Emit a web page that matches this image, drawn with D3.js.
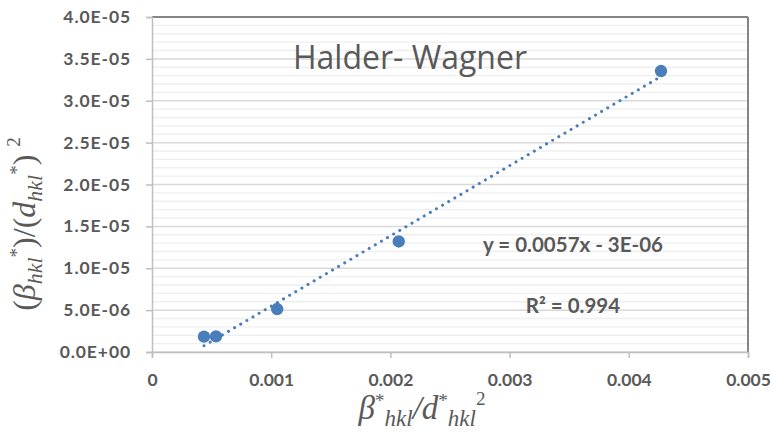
<!DOCTYPE html>
<html>
<head>
<meta charset="utf-8">
<script src="https://cdn.jsdelivr.net/npm/d3@7"></script>
<style>
  html, body { margin: 0; padding: 0; background: #fff; }
  svg { display: block; }
</style>
</head>
<body>
<svg id="chart" width="773" height="432"></svg>
<script>
// ---- data ----
const xValues = [0.000436, 0.000537, 0.00105, 0.00207, 0.00427];
const yValues = [1.83e-6, 1.87e-6, 5.13e-6, 13.2e-6, 33.55e-6];
const xTicks = [0, 0.001, 0.002, 0.003, 0.004, 0.005];
const xTickLabels = ["0", "0.001", "0.002", "0.003", "0.004", "0.005"];
const yTicks = [0, 5e-6, 1e-5, 1.5e-5, 2e-5, 2.5e-5, 3e-5, 3.5e-5, 4e-5];
const yTickLabels = ["0.0E+00", "5.0E-06", "1.0E-05", "1.5E-05", "2.0E-05", "2.5E-05", "3.0E-05", "3.5E-05", "4.0E-05"];
const yMinorTicks = d3.range(0, 41).map(i => i * 1e-6);
const titleText = "Halder- Wagner";
const equationText = "y = 0.0057x - 3E-06";
const r2Text = "R² = 0.994";

(function () {
// ---- layout ----
const svg = d3.select("#chart");
const pL = 152, pR = 748, pT = 17, pB = 352;
const x = d3.scaleLinear().domain([0, 0.005]).range([pL, pR]);
const y = d3.scaleLinear().domain([0, 4e-5]).range([pB, pT]);
const grey = "#595959";
const blue = "#4a7ebb";
const tickFont = "Lato, 'Open Sans', sans-serif";

// minor gridlines
svg.append("g").selectAll("line").data(yMinorTicks.filter((d, i) => i % 5 !== 0))
  .join("line")
  .attr("x1", pL).attr("x2", pR)
  .attr("y1", d => y(d)).attr("y2", d => y(d))
  .attr("stroke", "#efefef").attr("stroke-width", 1.3);

// major gridlines
svg.append("g").selectAll("line").data(yTicks)
  .join("line")
  .attr("x1", pL).attr("x2", pR)
  .attr("y1", d => y(d)).attr("y2", d => y(d))
  .attr("stroke", "#d9d9d9").attr("stroke-width", 1.5);

// plot border (top/right darker)
svg.append("line").attr("x1", pL).attr("x2", pR).attr("y1", pT).attr("y2", pT)
  .attr("stroke", "#858585").attr("stroke-width", 2);
svg.append("line").attr("x1", pR).attr("x2", pR).attr("y1", pT).attr("y2", pB)
  .attr("stroke", "#858585").attr("stroke-width", 2);

// x axis
const xAxis = d3.axisBottom(x).tickValues(xTicks).tickSize(6).tickFormat((d, i) => xTickLabels[i]);
const gx = svg.append("g").attr("transform", `translate(0,${pB})`).call(xAxis);
gx.select(".domain").attr("stroke", "#bfbfbf").attr("stroke-width", 1.5);
gx.selectAll(".tick line").attr("stroke", "#bfbfbf").attr("stroke-width", 1.5);
gx.selectAll(".tick text").attr("font-family", tickFont).attr("font-weight", "bold")
  .attr("font-size", 17.5).attr("fill", grey).attr("dy", "1.42em");

// y axis
const yAxis = d3.axisLeft(y).tickValues(yTicks).tickSize(6).tickFormat((d, i) => yTickLabels[i]);
const gy = svg.append("g").attr("transform", `translate(${pL},0)`).call(yAxis);
gy.select(".domain").attr("stroke", "#bfbfbf").attr("stroke-width", 1.5);
gy.selectAll(".tick line").attr("stroke", "#bfbfbf").attr("stroke-width", 1.5);
gy.selectAll(".tick text").attr("font-family", tickFont).attr("font-weight", "bold")
  .attr("font-size", 17.5).attr("letter-spacing", 0.9).attr("fill", grey).attr("x", -21);

// linear regression trendline
const n = xValues.length;
const mx = d3.mean(xValues), my = d3.mean(yValues);
let sxy = 0, sxx = 0;
for (let i = 0; i < n; i++) { sxy += (xValues[i] - mx) * (yValues[i] - my); sxx += (xValues[i] - mx) ** 2; }
const slope = sxy / sxx, intercept = my - slope * mx;
const xs = d3.extent(xValues);
const line = d3.line().x(d => x(d)).y(d => y(slope * d + intercept));
svg.append("path").datum(xs).attr("d", line)
  .attr("fill", "none").attr("stroke", blue).attr("stroke-width", 3)
  .attr("stroke-linecap", "round").attr("stroke-dasharray", "0.1 7");

// points
svg.append("g").selectAll("circle").data(xValues.map((d, i) => [d, yValues[i]]))
  .join("circle")
  .attr("cx", d => x(d[0])).attr("cy", d => y(d[1])).attr("r", 6.2)
  .attr("fill", blue);

// title
svg.append("text").attr("x", 410).attr("y", 69).attr("text-anchor", "middle")
  .attr("font-family", "'Open Sans', sans-serif").attr("font-size", 32).attr("fill", grey)
  .text(titleText);

// equation & R2
svg.append("text").attr("x", 573).attr("y", 252).attr("text-anchor", "middle")
  .attr("font-family", tickFont).attr("font-weight", "bold").attr("font-size", 20.5).attr("fill", grey)
  .text(equationText);
svg.append("text").attr("x", 573).attr("y", 313).attr("text-anchor", "middle")
  .attr("font-family", tickFont).attr("font-weight", "bold").attr("font-size", 20.5).attr("fill", grey)
  .text(r2Text);

// math-style axis titles
const mathFont = "'Liberation Serif', 'DejaVu Serif', serif";
function addParts(textSel, parts) {
  parts.forEach(p => {
    const t = textSel.append("tspan").text(p.t);
    if (p.dy) t.attr("dy", p.dy);
    if (p.size) t.attr("font-size", p.size);
    if (p.style) t.attr("font-style", p.style);
  });
}

// x axis title: β*hkl/d*hkl^2
const xt = svg.append("text").attr("x", 422).attr("y", 419).attr("text-anchor", "middle")
  .attr("font-family", mathFont).attr("font-style", "italic").attr("font-size", 33).attr("fill", grey);
addParts(xt, [
  { t: "β" },
  { t: "*", dy: -12, size: 19, style: "normal" },
  { t: "hkl", dy: 19, size: 23 },
  { t: "/d", dy: -7 },
  { t: "*", dy: -12, size: 19, style: "normal" },
  { t: "hkl", dy: 19, size: 23 },
  { t: "2", dy: -21, size: 19, style: "normal" },
]);

// y axis title: (β_hkl*)/(d_hkl*)^2
const yt = svg.append("text").attr("transform", "translate(35,224) rotate(-90)")
  .attr("text-anchor", "middle")
  .attr("font-family", mathFont).attr("font-style", "italic").attr("font-size", 32).attr("fill", grey);
addParts(yt, [
  { t: "(", style: "normal" },
  { t: "β" },
  { t: "hkl", dy: 7, size: 22 },
  { t: "*", dy: -19, size: 19, style: "normal" },
  { t: ")/(", dy: 12, style: "normal" },
  { t: "d" },
  { t: "hkl", dy: 7, size: 22 },
  { t: "*", dy: -19, size: 19, style: "normal" },
  { t: ") ", dy: 12, style: "normal" },
  { t: "2", dy: -15, size: 19, style: "normal" },
]);
})();
</script>
</body>
</html>
